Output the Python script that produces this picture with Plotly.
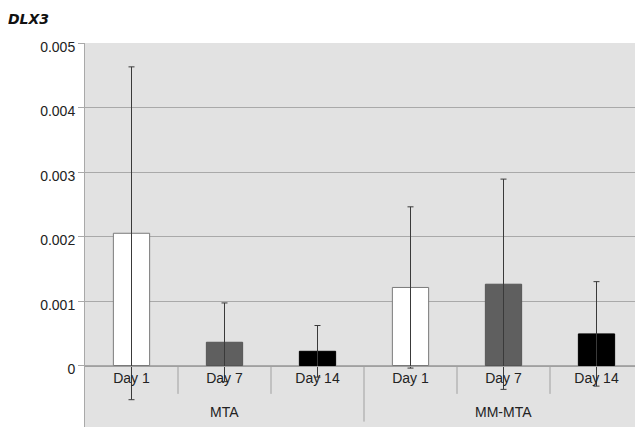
import plotly.graph_objects as go

days = ["Day 1", "Day 7", "Day 14"]
groups = ["MTA", "MM-MTA"]
means = [0.00205, 0.00036, 0.00022, 0.00121, 0.00126, 0.00049]
errors = [0.00258, 0.00061, 0.00040, 0.00125, 0.00163, 0.00081]
y_ticks = [-0.001, 0, 0.001, 0.002, 0.003, 0.004, 0.005]
y_ticktext = ["\u22120.001", "0", "0.001", "0.002", "0.003", "0.004", "0.005"]

bar_colors = ["#ffffff", "#5f5f5f", "#000000"] * 2
line_colors = ["#7a7a7a", "#555555", "#000000"] * 2

n = len(days) * len(groups)
xs = list(range(n))
labels = days * len(groups)

ymin, ymax = -0.001124, 0.005

fig = go.Figure()
fig.add_trace(go.Bar(
    x=xs, y=means,
    marker=dict(color=bar_colors, line=dict(color=line_colors, width=1)),
    error_y=dict(type="data", array=errors, visible=True,
                 color="#3a3a3a", thickness=1, width=3),
    showlegend=False,
))

# dividers between days (short) and groups (long)
for i in range(n - 1):
    boundary = i + 0.5
    long_div = (i + 1) % len(days) == 0
    fig.add_shape(type="line", xref="x", yref="y",
                  x0=boundary, x1=boundary, y0=0,
                  y1=-0.00087 if long_div else -0.00044,
                  line=dict(color="#a0a0a0", width=1), layer="below")

# group labels
for g, name in enumerate(groups):
    fig.add_annotation(x=g * len(days) + (len(days) - 1) / 2, y=-0.00072,
                       xref="x", yref="y", text=name, showarrow=False,
                       font=dict(family="Liberation Sans, Arial", size=14, color="#222"))

fig.update_layout(
    width=635, height=430,
    margin=dict(l=77, r=0, t=35, b=0),
    paper_bgcolor="white", plot_bgcolor="#e2e2e2",
    bargap=0.61,
    title=dict(text="<b><i>DLX3</i></b>", x=0, xanchor="left",
               y=1 - 11.5/430, yanchor="middle",
               font=dict(family="DejaVu Sans", size=14, color="#111")),
    font=dict(family="Liberation Sans, Arial", size=14, color="#222"),
)
fig.update_xaxes(
    anchor="free", position=(0 - ymin) / (ymax - ymin),
    tickvals=xs, ticktext=labels, range=[-0.5, n - 0.5],
    showgrid=False, zeroline=False, showline=True, linecolor="#a0a0a0", linewidth=1,
    ticks="", tickfont=dict(size=14, color="#222"), automargin=False,
)
fig.update_yaxes(
    range=[ymin, ymax], tickvals=y_ticks, ticktext=y_ticktext,
    showgrid=True, gridcolor="#a9a9a9", gridwidth=1,
    zeroline=False, showline=True, linecolor="#a9a9a9", linewidth=1,
    ticks="outside", ticklen=6, tickcolor="#a9a9a9",
    tickfont=dict(size=14, color="#222"), ticklabelshift=4,
    ticklabeloverflow="allow", automargin=False,
)

fig.write_html("out.html")
